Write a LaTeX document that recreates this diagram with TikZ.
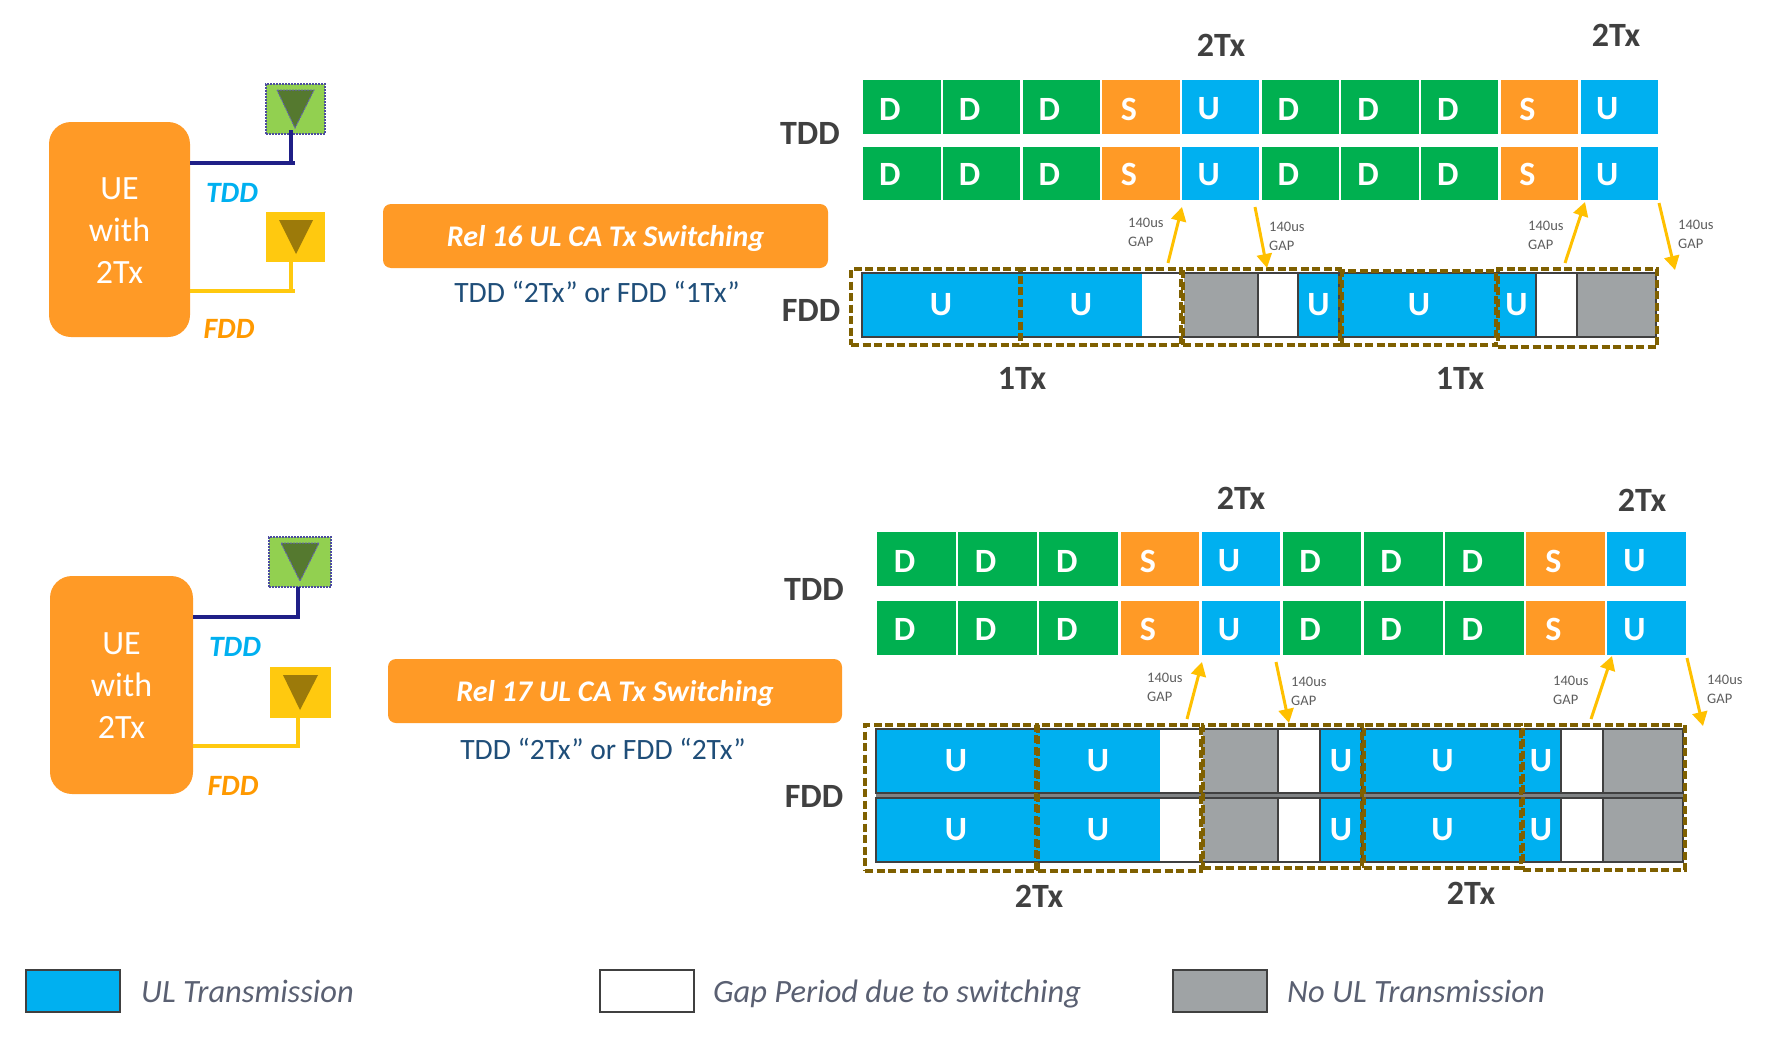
\documentclass[tikz,border=0pt]{standalone}
\usepackage{fontspec}
\setmainfont{Carlito}
\usetikzlibrary{arrows.meta,shapes.geometric}
\definecolor{cgreen}{HTML}{00B050}
\definecolor{corange}{HTML}{FF9A26}
\definecolor{cfdd}{HTML}{FF9900}
\definecolor{cblue}{HTML}{00B0F0}
\definecolor{cgray}{HTML}{9FA3A5}
\definecolor{cdark}{HTML}{404040}
\definecolor{cdash}{HTML}{7F6000}
\definecolor{carrow}{HTML}{FFC000}
\definecolor{cnavy}{HTML}{1F1F87}
\definecolor{cyel}{HTML}{FFC90F}
\definecolor{clgreen}{HTML}{92D050}
\definecolor{cgtri}{HTML}{55792F}
\definecolor{cytri}{HTML}{9C7A0A}
\definecolor{ctext}{HTML}{1F4E79}
\definecolor{clegend}{HTML}{5A6072}
\tikzset{
  x=1pt,y=-1pt,
  cellbase/.style={inner sep=0pt,outer sep=0pt,rectangle,text=white,font=\fontsize{34}{36}\selectfont\bfseries},
  ue/.style={rectangle,rounded corners=22pt,fill=corange,inner sep=0pt,outer sep=0pt,text=white,align=center,font=\fontsize{34}{42}\selectfont},
  relbox/.style={rectangle,rounded corners=8pt,fill=corange,inner sep=0pt,outer sep=0pt,text=white,font=\fontsize{30}{32}\selectfont\bfseries\itshape},
  reltext/.style={text=ctext,inner sep=0pt,font=\fontsize{29.5}{32}\selectfont},
  head/.style={text=cdark,inner sep=0pt,font=\fontsize{34}{36}\selectfont\bfseries},
  gaptext/.style={text=cdark!85,inner sep=0pt,anchor=west,align=left,font=\fontsize{14.5}{19}\selectfont},
  band/.style={text=#1,inner sep=0pt,font=\fontsize{29.5}{32}\selectfont\bfseries\itshape},
  dashbox/.style={draw=cdash,line width=3.2pt,dash pattern=on 8pt off 3.5pt,inner sep=0pt,outer sep=0pt,rectangle},
  frameline/.style={draw=cdark,line width=2.6pt},
  gaparrow/.style={draw=carrow,line width=3pt,-{Triangle[length=14pt,width=15pt]}},
  legendbox/.style={draw=cdark,line width=1.8pt,rectangle,inner sep=0pt,outer sep=0pt},
  legendtext/.style={text=clegend,anchor=base west,inner sep=0pt,font=\fontsize{32.5}{36}\selectfont\itshape},
  antsq/.style={rectangle,inner sep=0pt,outer sep=0pt,dash pattern=on 2pt off 1pt},
}
% shifts content down while keeping the box extents
\newcommand{\dn}[2]{\raisebox{-#1pt}[\height][\depth]{#2}}
% \seg{name}{x1}{y1}{x2}{y2}{options}{text}
\newcommand{\seg}[7]{%
  \pgfmathsetmacro{\segw}{#4-#2}\pgfmathsetmacro{\segh}{#5-#3}%
  \pgfmathsetmacro{\segx}{(#2+#4)/2}\pgfmathsetmacro{\segy}{(#3+#5)/2}%
  \node[cellbase,minimum width=\segw pt,minimum height=\segh pt,#6] (#1) at (\segx,\segy) {#7};}
% \tddrow{prefix}{x0}{pitch}{y1}{y2}{letter shift}
\newcommand{\tddrow}[6]{%
  \foreach \L/\C [count=\i from 0] in {D/cgreen,D/cgreen,D/cgreen,S/corange,U/cblue,D/cgreen,D/cgreen,D/cgreen,S/corange,U/cblue}{%
    \pgfmathsetmacro{\xa}{#2+\i*#3+1.2}\pgfmathsetmacro{\xb}{#2+(\i+1)*#3-1.2}%
    \seg{#1\i}{\xa}{#4}{\xb}{#5}{fill=\C,text=white}{\dn{#6}{\L}\hspace*{24pt}}%
  }}
\begin{document}
\begin{tikzpicture}
\useasboundingbox (0,0) rectangle (1781,1052);

% ---------- top left
\seg{ueA}{49}{122}{190}{337}{ue}{\dn{1}{UE}\\\dn{1}{with}\\\dn{1}{2Tx}}
\seg{antA}{266}{84}{325}{134}{antsq,fill=clgreen,draw=cnavy!80,line width=1.2pt}{}
\draw[fill=cgtri,draw=cnavy!70,dash pattern=on 2pt off 1pt,line width=1pt] (277,90) -- (314,90) -- (295,128) -- cycle;
\seg{antB}{266}{212}{325}{262}{antsq,fill=cyel}{}
\fill[cytri] (279,220) -- (313,220) -- (296,254) -- cycle;
\coordinate (a1) at (ueA.east |- 0,163);
\coordinate (a2) at (295,163);
\coordinate (a3) at (291,163);
\coordinate (a4) at (291,130);
\coordinate (b1) at (ueA.east |- 0,291);
\coordinate (b2) at (295,291);
\coordinate (b3) at (291,291);
\draw[cnavy,line width=3.2pt] (a1) -- (a2) (a3) -- (a4);
\draw[cyel,line width=3.2pt] (b1) -- (b2) (b3) -- (antB.south -| b3);
\node[band=cblue] (tA) at (232,193) {TDD};
\node[band=cfdd] (fA) at (229,329) {FDD};
\seg{relA}{383}{204}{828}{268}{relbox}{\dn{2.3}{Rel 16 UL CA Tx Switching}}
\node[reltext] (rtA) at (597,292) {TDD “2Tx” or FDD “1Tx”};

% ---------- top right
\node[head] (h1) at (1221,45) {2Tx};
\node[head] (h2) at (1616,35) {2Tx};
\node[head] (h3) at (810,133) {TDD};
\node[head] (h4) at (811,310) {FDD};
\node[head] (h5) at (1022,378) {1Tx};
\node[head] (h6) at (1460,378) {1Tx};
\tddrow{ra}{862}{79.7}{79.5}{134}{2.3}
\tddrow{rb}{862}{79.7}{146.5}{200}{1.2}

\seg{fa1}{862}{273}{1020}{337}{fill=cblue}{U}
\seg{fa2}{1020}{273}{1142}{337}{fill=cblue}{U}
\seg{fa3}{1142}{273}{1182}{337}{fill=white}{}
\seg{fa4}{1184}{273}{1258}{337}{fill=cgray}{}
\seg{fa5}{1258}{273}{1298}{337}{fill=white}{}
\seg{fa6}{1298}{273}{1339}{337}{fill=cblue}{U}
\seg{fa7}{1341}{273}{1497}{337}{fill=cblue}{U}
\seg{fa8}{1497}{273}{1536}{337}{fill=cblue}{U}
\seg{fa9}{1536}{273}{1577}{337}{fill=white}{}
\seg{fa10}{1577}{273}{1656}{337}{fill=cgray}{}
\draw[frameline] (862,273) rectangle (1656,337);
\foreach \vx in {1258,1298,1339,1536,1577}{\draw[frameline] (\vx,273) -- (\vx,337);}
\seg{da1}{851}{269}{1019.5}{345}{dashbox}{}
\seg{da2}{1021}{269}{1181}{345}{dashbox}{}
\seg{da3}{1183}{269}{1340}{345}{dashbox}{}
\seg{da4}{1342}{271}{1496}{345}{dashbox}{}
\seg{da5}{1498}{269}{1657}{347}{dashbox}{}

\node[gaptext] (ga1) at (1128,232.5) {140us\\GAP};
\node[gaptext] (ga2) at (1269,236.5) {140us\\GAP};
\node[gaptext] (ga3) at (1528,235) {140us\\GAP};
\node[gaptext] (ga4) at (1678,234) {140us\\GAP};
\coordinate (p1) at (1168,263); \coordinate (q1) at (1182,207);
\coordinate (p2) at (1255,207); \coordinate (q2) at (1267,268);
\coordinate (p3) at (1565,263); \coordinate (q3) at (1585,202);
\coordinate (p4) at (1659,203); \coordinate (q4) at (1675,270);
\foreach \k in {1,2,3,4}{\draw[gaparrow] (p\k) -- (q\k);}

% ---------- bottom left
\seg{ueB}{50}{576}{193}{794}{ue}{\dn{1}{UE}\\\dn{1}{with}\\\dn{1}{2Tx}}
\seg{antC}{269}{537}{331}{587}{antsq,fill=clgreen,draw=cnavy!80,line width=1.2pt}{}
\draw[fill=cgtri,draw=cnavy!70,dash pattern=on 2pt off 1pt,line width=1pt] (281,543) -- (319,543) -- (300,581) -- cycle;
\seg{antD}{270}{667}{331}{718}{antsq,fill=cyel}{}
\fill[cytri] (283,675) -- (318,675) -- (300,710) -- cycle;
\coordinate (c1) at (ueB.east |- 0,617);
\coordinate (c2) at (298,617);
\coordinate (d1) at (ueB.east |- 0,746);
\coordinate (d2) at (298,746);
\draw[cnavy,line width=3.2pt] (c1) -- (c2) -- (antC.south -| c2);
\draw[cyel,line width=3.2pt] (d1) -- (d2) -- (antD.south -| d2);
\node[band=cblue] (tB) at (235,647) {TDD};
\node[band=cfdd] (fB) at (233,786) {FDD};
\seg{relB}{388}{659}{842}{723}{relbox}{\dn{2.3}{Rel 17 UL CA Tx Switching}}
\node[reltext] (rtB) at (603,749) {TDD “2Tx” or FDD “2Tx”};

% ---------- bottom right
\node[head] (k1) at (1241,498) {2Tx};
\node[head] (k2) at (1642,500) {2Tx};
\node[head] (k3) at (814,589) {TDD};
\node[head] (k4) at (814,796) {FDD};
\node[head] (k5) at (1039,896) {2Tx};
\node[head] (k6) at (1471,893) {2Tx};
\tddrow{rc}{876}{81.1}{531.5}{586}{2.3}
\tddrow{rd}{876}{81.1}{601}{655}{1.2}

\seg{midgap}{876}{793}{1683}{798}{fill=cgray!80!black}{}
\foreach \t/\ya/\yb in {m/729/793,n/798/862}{
\seg{\t1}{876}{\ya}{1036}{\yb}{fill=cblue}{U}
\seg{\t2}{1036}{\ya}{1160}{\yb}{fill=cblue}{U}
\seg{\t3}{1160}{\ya}{1201}{\yb}{fill=white}{}
\seg{\t4}{1203}{\ya}{1278}{\yb}{fill=cgray}{}
\seg{\t5}{1278}{\ya}{1320}{\yb}{fill=white}{}
\seg{\t6}{1320}{\ya}{1362}{\yb}{fill=cblue}{U}
\seg{\t7}{1364}{\ya}{1521}{\yb}{fill=cblue}{U}
\seg{\t8}{1521}{\ya}{1561}{\yb}{fill=cblue}{U}
\seg{\t9}{1561}{\ya}{1603}{\yb}{fill=white}{}
\seg{\t10}{1603}{\ya}{1683}{\yb}{fill=cgray}{}
\draw[frameline] (876,\ya) rectangle (1683,\yb);
\foreach \vx in {1278,1320,1362,1561,1603}{\draw[frameline] (\vx,\ya) -- (\vx,\yb);}
}
\seg{db1}{865}{725}{1036}{871}{dashbox}{}
\seg{db2}{1038}{725}{1201}{871}{dashbox}{}
\seg{db3}{1203}{725}{1362}{868}{dashbox}{}
\seg{db4}{1364}{725}{1521}{868}{dashbox}{}
\seg{db5}{1523}{725}{1685}{870}{dashbox}{}

\node[gaptext] (gb1) at (1147,687.5) {140us\\GAP};
\node[gaptext] (gb2) at (1291,691.5) {140us\\GAP};
\node[gaptext] (gb3) at (1553,690.5) {140us\\GAP};
\node[gaptext] (gb4) at (1707,689) {140us\\GAP};
\coordinate (u1) at (1187,719); \coordinate (v1) at (1202,662);
\coordinate (u2) at (1276,662); \coordinate (v2) at (1289,723);
\coordinate (u3) at (1591,719); \coordinate (v3) at (1612,656);
\coordinate (u4) at (1687,658); \coordinate (v4) at (1703,726);
\foreach \k in {1,2,3,4}{\draw[gaparrow] (u\k) -- (v\k);}

% ---------- legend
\seg{l1}{26}{970}{120}{1012}{legendbox,fill=cblue}{}
\node[legendtext] (lt1) at (141,1002) {UL Transmission};
\seg{l2}{600}{970}{694}{1012}{legendbox,fill=white}{}
\node[legendtext] (lt2) at (713,1002) {Gap Period due to switching};
\seg{l3}{1173}{970}{1267}{1012}{legendbox,fill=cgray}{}
\node[legendtext] (lt3) at (1287,1002) {No UL Transmission};
\end{tikzpicture}
\end{document}
